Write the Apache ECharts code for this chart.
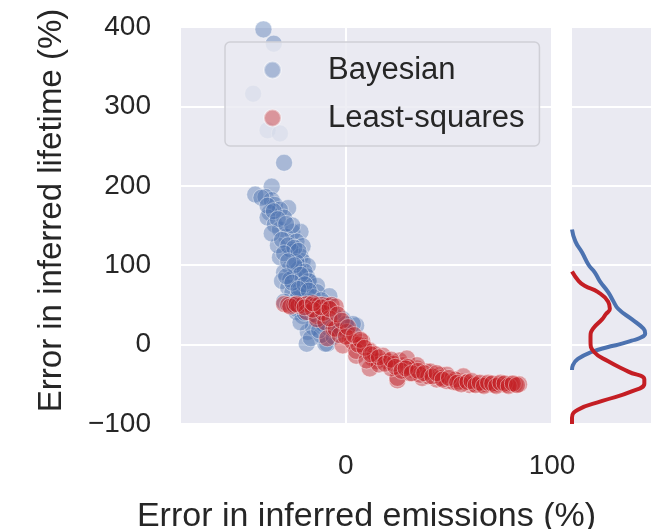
<!DOCTYPE html>
<html>
<head>
<meta charset="utf-8">
<script src="https://cdn.jsdelivr.net/npm/echarts@6/dist/echarts.min.js"></script>
<style>
html,body{margin:0;padding:0;background:#fff;}
#chart{width:651px;height:529px;}
</style>
</head>
<body>
<div id="chart"></div>
<script>
// ---- data ----
const bayesianPts = [
  [-40,397],[-35,379],[-45,316],[-38,270],[-32,266],[-30,229],
  [-44,189],[-36,199],[-39,186],[-36,182],[-34.5,176],[-28,172],[-32,170],[-37,166],[-38,160],
  [-34.5,151],[-32,145],[-26,142],[-22,142],[-29,136],[-24,130],[-21,124],[-26,117],[-32,110],
  [-22,111],[-21,105],[-18.5,99],[-27,97],[-30,91],[-23,95],[-25,86],[-19,86],[-31,80],
  [-17.5,79],[-28,72],[-21,74],[-14,74],[-26,66],[-19,64],[-14,66],[-8,61],[-24,57],
  [-17.5,54],[-30,54],[-24,41],[-18.5,16],[-19,1],[-9,1],[-14,30],[-1.5,32],[5,24],
  [-21,36],[-10,1],[3.4,26],[-24,45],
  [-27,120],[-24,104],[-20,92],[-27,82],[-22,70],[-16,60],[-20,48],[-12,44],[-6,38],
  [-16,22],[-12,12],[-22,28],[-8,20],[-33,125],[-30,160],[-26,150],[-18,80],[-23,62],[-10,52],
  [-41,185],[-38,175],[-35,168],[-33,158],[-29,152],[-36,140],[-31,132],[-28,125],[-25,122],
  [-30,115],[-23,118],[-28,105],[-25,100],[-22,88],[-29,86],[-26,78],[-20,76],[-23,70],
  [-18,68],[-25,50],[-16,50],[-12,56],[-20,40],[-15,38],[-11,26],[-17,8],[-6,10],[-13,18],
  [-3,18],[0,26]
];
const leastSquaresPts = [
  [-30,51],[-28,50],[-25,50],[-23,49],[-21,50],[-19,51],[-17,50],[-15,49],[-13,50],[-11,50],
  [-9,49],[-7,50],[-5,48],
  [-19,41],[-14,36],[-14,32],[-10,28],[-6,20],[-9,8],[-5,20],[0.5,16],[2,7.5],[-1.5,-1],
  [3,4],[8,4],[8,-1],[11.6,-7.5],[11.6,-9],[5,-14],[5,-8],[13,-17.5],[15,-21],[20,-20],
  [20,-21],[26,-20],[11.6,-30],[27.7,-26],[25,-45],[25,-42],[32.5,-32],[34.5,-30],[31,-36],
  [37,-42],[39,-34],[29.6,-17.5],[34.5,-26],[41,-34],[45.6,-38],[49,-38],[49,-46],[55,-46],
  [57,-40],[60,-51],[62,-50],[64,-49],[66,-51],[68,-50],[70,-50],[72,-51],[74,-50],[76,-50],
  [78,-51],[80,-50],[82,-50],[84,-50],[52,-47],[58,-48],[44,-44],[40,-40],[18,-14],[16,-25],
  [22,-30],[6,0],[14,-12],[-3,12],[-11,40],[-16,44],[-8,33],[0,10],[10,-20],[23,-24],
  [30,-28],[36,-38],[46,-42],[53,-44],
  [-27,48],[-24,51],[-20,47],[-16,52],[-12,47],[-8,45],[-4,38],[-2,30],[1,22],[4,12],[7,6],
  [9,-4],[12,-12],[16,-16],[19,-24],[22,-19],[24,-28],[27,-33],[29,-30],[32,-36],[35,-33],
  [38,-36],[42,-40],[44,-36],[47,-44],[50,-42],[54,-48],[56,-50],[59,-47],[61,-46],[63,-51],
  [65,-48],[67,-52],[69,-48],[71,-49],[73,-52],[75,-48],[77,-49],[79,-52],[81,-49],[83,-51]
];
// marginal density curves: [density, lifetime error]
const bayesianKde = [
  [0.0,145],[0.04,130],[0.12,116],[0.2,100],[0.27,91],[0.33,80],[0.43,66],[0.49,55],[0.55,45],
  [0.71,32],[0.85,20],[0.87,14],[0.80,8],[0.71,5],[0.55,0],[0.43,-3],[0.24,-9],[0.07,-18],
  [0.01,-26],[0.0,-32]
];
const leastSquaresKde = [
  [0.0,92],[0.08,80],[0.15,74],[0.31,66],[0.43,54],[0.45,45],[0.40,38],[0.36,32],[0.25,20],
  [0.22,10],[0.22,4],[0.26,-9],[0.43,-21],[0.67,-34],[0.86,-44],[0.86,-49],[0.71,-59],
  [0.36,-71],[0.07,-82],[0.0,-92],[0.0,-100]
];
const xTickValues = [0, 100];
const yTickMin = -100, yTickMax = 400, yTickStep = 100;
const seriesNames = ['Bayesian', 'Least-squares'];
const xTitle = 'Error in inferred emissions (%)';
const yTitle = 'Error in inferred lifetime (%)';

// ---- chart ----
const FONT = '"Liberation Sans", Arial, sans-serif';
const TXT = '#262626';
const BG = '#EAEAF2';
const BLUE = '#4C72B0';
const RED = '#C41E24';

const chart = echarts.init(document.getElementById('chart'), null, {renderer: 'canvas'});
chart.setOption({
  animation: false,
  backgroundColor: '#ffffff',
  textStyle: {fontFamily: FONT},
  grid: [
    {left: 181, top: 27, width: 371, height: 397, show: true, backgroundColor: BG, borderWidth: 0,
     containLabel: false, outerBoundsMode: 'none'},
    {left: 572, top: 27, width: 90, height: 397, show: true, backgroundColor: BG, borderWidth: 0,
     containLabel: false, outerBoundsMode: 'none'}
  ],
  xAxis: [
    {
      type: 'value', gridIndex: 0, min: -80, max: 100,
      name: xTitle, nameLocation: 'middle', nameGap: 76,
      nameTextStyle: {fontSize: 34, color: TXT, fontFamily: FONT},
      axisLine: {show: false},
      axisTick: {show: false, customValues: xTickValues},
      axisLabel: {customValues: xTickValues, fontSize: 28, color: TXT, margin: 28, fontFamily: FONT},
      splitLine: {show: true, lineStyle: {color: '#ffffff', width: 2}}
    },
    {
      type: 'value', gridIndex: 1, min: 0, max: 1.07,
      axisLine: {show: false}, axisTick: {show: false}, axisLabel: {show: false},
      splitLine: {show: false}
    }
  ],
  yAxis: [
    {
      type: 'value', gridIndex: 0, min: yTickMin, max: yTickMax, interval: yTickStep,
      name: yTitle, nameLocation: 'middle', nameGap: 113,
      nameTextStyle: {fontSize: 33, color: TXT, fontFamily: FONT, padding: [0, 0, 0, 30]},
      axisLine: {show: false}, axisTick: {show: false},
      axisLabel: {fontSize: 28, color: TXT, margin: 30, fontFamily: FONT,
        formatter: v => (v < 0 ? '\u2212' + Math.abs(v) : String(v))},
      splitLine: {show: true, lineStyle: {color: '#ffffff', width: 2}}
    },
    {
      type: 'value', gridIndex: 1, min: yTickMin, max: yTickMax, interval: yTickStep,
      axisLine: {show: false}, axisTick: {show: false}, axisLabel: {show: false},
      splitLine: {show: true, lineStyle: {color: '#ffffff', width: 2}}
    }
  ],
  legend: {
    data: seriesNames,
    orient: 'vertical',
    left: 225, top: 42,
    padding: [8, 15, 8, 38],
    itemGap: 8,
    itemWidth: 17, itemHeight: 17,
    icon: 'circle',
    backgroundColor: 'rgba(234,234,242,0.82)',
    borderColor: '#cfcfd6', borderWidth: 1.5, borderRadius: 5,
    textStyle: {fontSize: 31, color: TXT, fontFamily: FONT, padding: [0, 0, 0, 42], lineHeight: 40}
  },
  series: [
    {
      name: seriesNames[0], type: 'scatter', xAxisIndex: 0, yAxisIndex: 0,
      data: bayesianPts, symbolSize: 17,
      itemStyle: {color: BLUE, opacity: 0.42, borderColor: '#ffffff', borderWidth: 1}
    },
    {
      name: seriesNames[1], type: 'scatter', xAxisIndex: 0, yAxisIndex: 0,
      data: leastSquaresPts, symbolSize: 17,
      itemStyle: {color: RED, opacity: 0.42, borderColor: '#ffffff', borderWidth: 1}
    },
    {
      name: 'Bayesian density', type: 'line', xAxisIndex: 1, yAxisIndex: 1,
      data: bayesianKde, smooth: 0.5, showSymbol: false, symbol: 'none',
      lineStyle: {color: BLUE, width: 4}, clip: true
    },
    {
      name: 'Least-squares density', type: 'line', xAxisIndex: 1, yAxisIndex: 1,
      data: leastSquaresKde, smooth: 0.5, showSymbol: false, symbol: 'none',
      lineStyle: {color: RED, width: 4}, clip: true
    }
  ]
});
</script>
</body>
</html>
